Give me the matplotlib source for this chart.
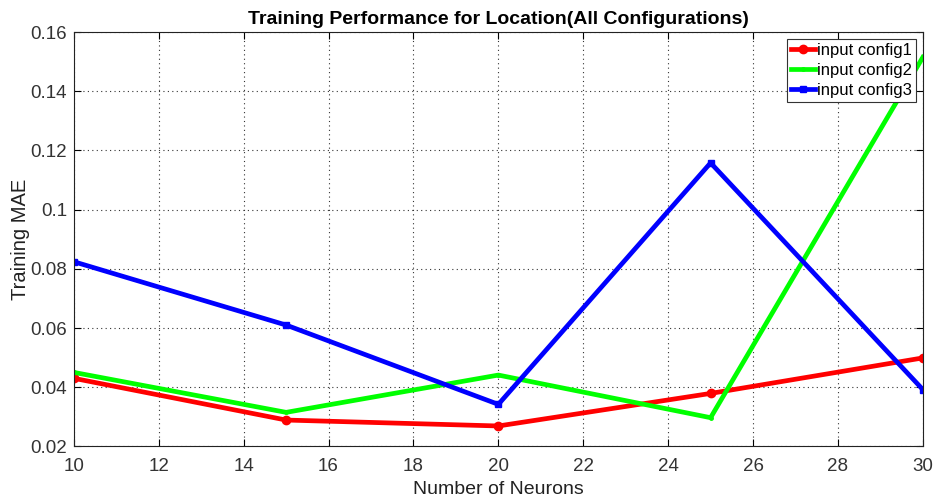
import matplotlib

matplotlib.use("Agg")
import matplotlib.pyplot as plt

# values
neurons = [10, 15, 20, 25, 30]
config1_mae = [0.043, 0.0289, 0.0269, 0.0379, 0.0499]
config2_mae = [0.045, 0.0315, 0.0441, 0.0297, 0.1515]
config3_mae = [0.0824, 0.0610, 0.0342, 0.1158, 0.0392]
x_ticks = [10, 12, 14, 16, 18, 20, 22, 24, 26, 28, 30]
y_ticks = [0.02, 0.04, 0.06, 0.08, 0.1, 0.12, 0.14, 0.16]
y_tick_labels = ["0.02", "0.04", "0.06", "0.08", "0.1", "0.12", "0.14", "0.16"]

plt.rcParams["font.family"] = ["Liberation Sans", "DejaVu Sans"]

fig = plt.figure(figsize=(9.35, 5.01), dpi=100)
ax = fig.add_axes([0.079, 0.109, 0.908, 0.827])

ax.plot(neurons, config1_mae, color="#ff0000", lw=3.4, marker="o", ms=6, label="input config1")
ax.plot(neurons, config2_mae, color="#00ff00", lw=3.4, marker=".", ms=5, label="input config2")
ax.plot(neurons, config3_mae, color="#0000ff", lw=3.4, marker="s", ms=5, label="input config3")

ax.set_xlim(10, 30)
ax.set_ylim(0.02, 0.16)
ax.set_xticks(x_ticks)
ax.set_yticks(y_ticks)
ax.set_yticklabels(y_tick_labels)
ax.tick_params(direction="in", top=True, right=True, labelsize=13.5, length=5,
               labelcolor="#333333")
ax.tick_params(axis="x", pad=8)
ax.tick_params(axis="y", pad=5)
ax.grid(True, color="#333333", linestyle=(0, (1, 3)), linewidth=0.8)
for spine in ax.spines.values():
    spine.set_linewidth(0.8)
    spine.set_color("#222222")

ax.set_title("Training Performance for Location(All Configurations)", fontsize=14, fontweight="bold", pad=6)
ax.set_xlabel("Number of Neurons", fontsize=14, labelpad=5, color="#222222")
ax.set_ylabel("Training MAE", fontsize=14.5, color="#222222")
ax.yaxis.set_label_coords(-0.052, 0.5)

leg = ax.legend(loc="upper right", fontsize=12, fancybox=False, framealpha=1,
                edgecolor="#333333", borderpad=0.25, labelspacing=0.3,
                handlelength=1.4, handletextpad=0.15, borderaxespad=0.4)
leg.get_frame().set_linewidth(0.8)

fig.savefig("out.png", dpi=100)
